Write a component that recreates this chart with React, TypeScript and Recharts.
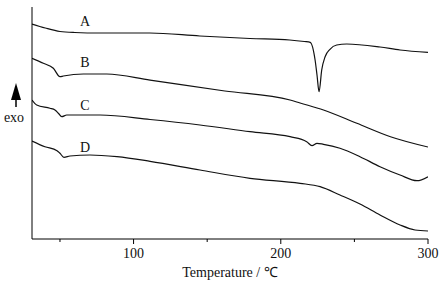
import React from "react";
import { LineChart, Line, XAxis, YAxis, ReferenceDot } from "recharts";

// temperatures (°C) and heat flow (arbitrary, exo up)
const tempA = [31, 40, 50, 60, 77, 111, 145, 179, 206, 216, 220, 223.3, 224.6, 226, 227.8, 230.1, 233.4, 238, 244.8, 267.4, 281, 300];
const flowA = [215, 211, 207.5, 206.5, 206, 206, 203, 200.5, 199, 197.5, 196.7, 179, 164, 147.3, 169, 182.3, 189.7, 194, 195, 192, 189, 186.7];

const tempB = [31, 38.7, 45.5, 50, 52.3, 65.9, 81.8, 111.2, 162, 206.3, 213.1, 229, 251.7, 274.5, 300];
const flowB = [180.7, 175.7, 170.7, 162.3, 163, 165, 165, 158.8, 148, 139, 136, 129, 115.7, 102.3, 92];

const tempC = [31, 34.2, 43.2, 46.6, 48.9, 51.2, 54.6, 77.2, 111.2, 145.1, 179.1, 206.3, 217.6, 221.2, 224.6, 229, 240.2, 253.8, 267.4, 281, 292.5, 300];
const flowC = [139, 134, 130.7, 129, 125.7, 122.3, 124, 124, 119.5, 114, 107.3, 102.3, 97.3, 93.3, 95.7, 94.7, 90.7, 82.3, 72.3, 64, 58.3, 62.3];

const tempD = [31, 39.8, 48, 50, 52.7, 56.8, 70.4, 88.7, 111.2, 145.1, 179.1, 213.1, 226.7, 240.2, 253.8, 267.4, 281, 291.2, 300];
const flowD = [98, 92.3, 88.3, 85.7, 81.7, 83, 84, 82.3, 77.7, 69, 60.7, 55.7, 52.3, 44, 35, 24, 14, 9, 8];

const xTicks = [50, 100, 150, 200, 250, 300];
const xLabels = [100, 200, 300];

const seriesNames = ["A", "B", "C", "D"];
const labelTemp = 67;
const labelFlow = [218, 177, 134, 92];

const toRows = (t: number[], f: number[]) => t.map((v, i) => ({ t: v, f: f[i] }));
const series = [
  toRows(tempA, flowA),
  toRows(tempB, flowB),
  toRows(tempC, flowC),
  toRows(tempD, flowD),
];

const font = "'Liberation Serif', 'Times New Roman', serif";

function TempTick(props: any) {
  const { x, y, payload } = props;
  const major = xLabels.includes(payload.value);
  return (
    <g>
      <line x1={x} x2={x} y1={y} y2={y + (major ? 5 : 3)} stroke="#000" strokeWidth={1} />
      {major && (
        <text x={x} y={y + 19} textAnchor="middle" fontFamily={font} fontSize={14} fill="#111">
          {payload.value}
        </text>
      )}
    </g>
  );
}

function ExoLabel() {
  const cx = 16;
  return (
    <g>
      <polygon points={`${cx},83 ${cx - 5},100 ${cx + 5},100`} fill="#000" />
      <line x1={cx} x2={cx} y1={98} y2={107} stroke="#000" strokeWidth={1.5} />
      <text x={14} y={122} textAnchor="middle" fontFamily={font} fontSize={14} fill="#111">
        exo
      </text>
    </g>
  );
}

export default function App() {
  return (
    <div style={{ position: "absolute", left: 0, top: 0, background: "#fff" }}>
      <LineChart width={443} height={285} margin={{ top: 7, right: 15, left: 0, bottom: 0 }}>
        <XAxis
          type="number"
          dataKey="t"
          domain={[31, 300]}
          ticks={xTicks}
          allowDataOverflow
          height={46}
          tickSize={0}
          tickMargin={0}
          tickLine={false}
          tick={<TempTick />}
          axisLine={{ stroke: "#000", strokeWidth: 1 }}
          label={{
            value: "Temperature / ℃",
            position: "insideBottom",
            offset: 8,
            style: { fontFamily: font, fontSize: 14, fill: "#111" },
          }}
        />
        <YAxis
          type="number"
          domain={[0, 232]}
          width={32}
          tick={false}
          tickLine={false}
          axisLine={{ stroke: "#000", strokeWidth: 1 }}
          label={{ content: <ExoLabel /> }}
        />
        {series.map((rows, i) => (
          <Line
            key={seriesNames[i]}
            data={rows}
            dataKey="f"
            type="monotone"
            stroke="#111"
            strokeWidth={1.2}
            dot={false}
            isAnimationActive={false}
          />
        ))}
        {seriesNames.map((name, i) => (
          <ReferenceDot
            key={name}
            x={labelTemp}
            y={labelFlow[i]}
            r={0}
            fill="none"
            stroke="none"
            label={{ value: name, position: "center", style: { fontFamily: font, fontSize: 14, fill: "#111" } }}
          />
        ))}
      </LineChart>
    </div>
  );
}
